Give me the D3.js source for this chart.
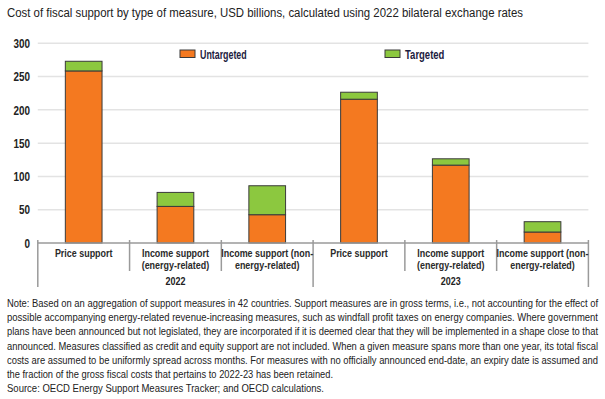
<!DOCTYPE html>
<html><head><meta charset="utf-8">
<script src="https://cdn.jsdelivr.net/npm/d3@7"></script>
<style>
html,body{margin:0;padding:0;background:#fff;}
svg{display:block;}
</style></head>
<body>
<script>
const title = "Cost of fiscal support by type of measure, USD billions, calculated using 2022 bilateral exchange rates";
const categories = ["Price support", "Income support (energy-related)", "Income support (non-energy-related)",
                    "Price support", "Income support (energy-related)", "Income support (non-energy-related)"];
const categoryLines = [["Price support"], ["Income support", "(energy-related)"], ["Income support (non-", "energy-related)"],
                       ["Price support"], ["Income support", "(energy-related)"], ["Income support (non-", "energy-related)"]];
const years = ["2022", "2023"];
const untargeted = [258.5, 55, 42.5, 216, 117, 16.5];
const targeted = [14.5, 21, 43.5, 10.5, 9.5, 15.5];
const seriesNames = ["Untargeted", "Targeted"];
const yTicks = [0, 50, 100, 150, 200, 250, 300];
const noteLines = [
 "Note: Based on an aggregation of support measures in 42 countries. Support measures are in gross terms, i.e., not accounting for the effect of",
 "possible accompanying energy-related revenue-increasing measures, such as windfall profit taxes on energy companies. Where government",
 "plans have been announced but not legislated, they are incorporated if it is deemed clear that they will be implemented in a shape close to that",
 "announced. Measures classified as credit and equity support are not included. When a given measure spans more than one year, its total fiscal",
 "costs are assumed to be uniformly spread across months. For measures with no officially announced end-date, an expiry date is assumed and",
 "the fraction of the gross fiscal costs that pertains to 2022-23 has been retained.",
 "Source: OECD Energy Support Measures Tracker; and OECD calculations."
];
const noteWidths = [591, 591, 591, 591, 591, 326, 317];

const W = 605, H = 399;
const colors = {Untargeted: "#F47920", Targeted: "#8CC83F"};
const font = "'Liberation Sans Narrow','Arial Narrow','Liberation Sans',Arial,sans-serif";

const svg = d3.select("body").append("svg").attr("width", W).attr("height", H);

function fit(sel, w) {
  sel.attr("textLength", w).attr("lengthAdjust", "spacingAndGlyphs");
}
function condense(sel, f) {
  sel.each(function() {
    const len = this.getComputedTextLength();
    d3.select(this).attr("textLength", len * f).attr("lengthAdjust", "spacingAndGlyphs");
  });
}

svg.append("text").attr("x", 7).attr("y", 17)
  .attr("font-family", font).attr("font-size", 12.5).attr("fill", "#222")
  .text(title).call(fit, 516);

const x = d3.scaleBand().domain(d3.range(categories.length)).range([37.8, 588.4]).padding(0);
const y = d3.scaleLinear().domain([0, 300]).range([243, 43.3]);

// gridlines
svg.append("g").selectAll("line").data(yTicks.filter(t => t > 0)).join("line")
  .attr("x1", 37.8).attr("x2", 588.4)
  .attr("y1", d => y(d)).attr("y2", d => y(d))
  .attr("stroke", "#e3e3e3").attr("stroke-width", 1.5);

// y axis labels
const yAxis = d3.axisLeft(y).tickValues(yTicks).tickSize(0).tickPadding(0);
const gy = svg.append("g").attr("transform", "translate(30,0)").call(yAxis);
gy.select(".domain").remove();
const yt = gy.selectAll("text").attr("font-family", font).attr("font-weight", "bold")
  .attr("font-size", 12).attr("fill", "#222").attr("dy", "0.35em");
{
  const f = 16.5 / gy.selectAll("text").filter(d => d === 300).node().getComputedTextLength();
  condense(yt, f);
}

// stacked bars
const rows = categories.map((c, i) => ({i, Untargeted: untargeted[i], Targeted: targeted[i]}));
const stack = d3.stack().keys(seriesNames)(rows);
const bw = x.bandwidth() * 0.4;
svg.append("g").selectAll("g").data(stack).join("g")
  .attr("fill", d => colors[d.key])
  .selectAll("rect").data(d => d).join("rect")
  .attr("x", d => x(d.data.i) + (x.bandwidth() - bw) / 2)
  .attr("width", bw)
  .attr("y", d => y(d[1]))
  .attr("height", d => y(d[0]) - y(d[1]))
  .attr("stroke", "#3a3a3a").attr("stroke-width", 1);

// x axis line
svg.append("line").attr("x1", 37.8).attr("x2", 588.4).attr("y1", y(0)).attr("y2", y(0))
  .attr("stroke", "#9a9a9a").attr("stroke-width", 1.5);

// separators
const seps = d3.range(categories.length + 1);
svg.append("g").selectAll("line").data(seps).join("line")
  .attr("x1", d => d < categories.length ? x(d) : x.range()[1])
  .attr("x2", d => d < categories.length ? x(d) : x.range()[1])
  .attr("y1", y(0) - 3)
  .attr("y2", d => (d % 3 === 0) ? 287 : 271)
  .attr("stroke", "#9a9a9a").attr("stroke-width", 1.5);

// category labels (one text per line)
const labelItems = [];
categoryLines.forEach((lines, i) => lines.forEach((t, j) => labelItems.push({i, j, t})));
const cl = svg.append("g").selectAll("text").data(labelItems).join("text")
  .attr("x", d => x(d.i) + x.bandwidth() / 2)
  .attr("y", d => 257 + d.j * 11.5)
  .attr("font-family", font).attr("font-weight", "bold").attr("font-size", 11.5)
  .attr("fill", "#2a2a2a").attr("text-anchor", "middle")
  .text(d => d.t);
const catF = 57.6 / cl.filter(d => d.t === "Price support").node().getComputedTextLength();
condense(cl, catF);

// year labels
const yl = svg.append("g").selectAll("text").data(years).join("text")
  .attr("x", (d, k) => (x(k * 3) + (k === 1 ? x.range()[1] : x(3))) / 2)
  .attr("y", 284.5)
  .attr("text-anchor", "middle").attr("font-family", font).attr("font-weight", "bold")
  .attr("font-size", 11.5).attr("fill", "#222")
  .text(d => d);
condense(yl, catF);

// legend
const legendX = [180, 385];
const legendW = [46.7, 39.4];
const lg = svg.append("g").selectAll("g").data(seriesNames).join("g")
  .attr("transform", (d, i) => `translate(${legendX[i]},50)`);
lg.append("rect").attr("width", 15).attr("height", 7.5)
  .attr("fill", d => colors[d]).attr("stroke", "#3a3a3a").attr("stroke-width", 1);
lg.append("text").attr("x", 20).attr("y", 8.5).attr("font-family", font)
  .attr("font-weight", "bold").attr("font-size", 12).attr("fill", "#1c2040")
  .text(d => d)
  .each(function(d, i) { d3.select(this).call(fit, legendW[i]); });

// notes
svg.append("g").selectAll("text").data(noteLines).join("text")
  .attr("x", 7).attr("y", (d, i) => 307 + i * 14.2)
  .attr("font-family", font).attr("font-size", 11.5).attr("fill", "#222")
  .text(d => d)
  .each(function(d, i) { d3.select(this).call(fit, noteWidths[i]); });
</script>
</body></html>
